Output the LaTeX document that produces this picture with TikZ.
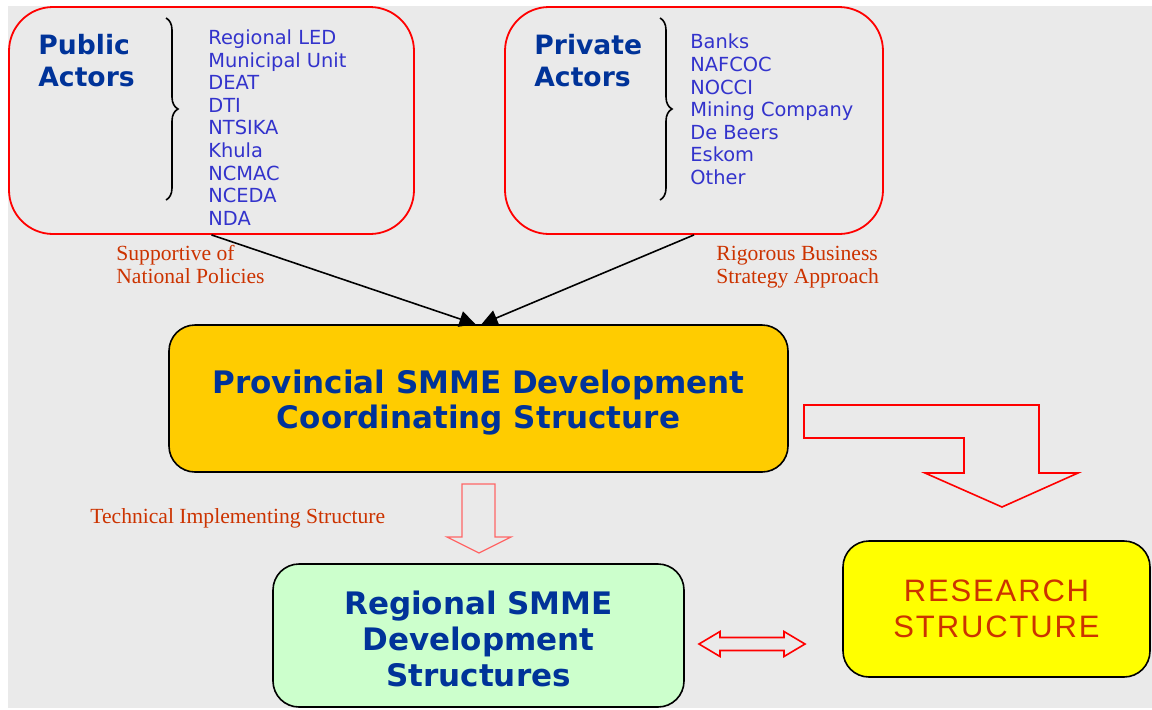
\documentclass[tikz,border=0pt]{standalone}
\usepackage{fontspec}
\usepackage{xcolor}
\usepackage{tikz}
\usetikzlibrary{arrows.meta}
\usetikzlibrary{decorations.pathreplacing}
\newfontfamily\verdana{DejaVu Sans}
\newfontfamily\timesf{Liberation Serif}
\newfontfamily\arialf[LetterSpace=6]{Liberation Sans}
\definecolor{bg}{HTML}{EAEAEA}
\definecolor{titleblue}{HTML}{003399}
\definecolor{listblue}{HTML}{3333CC}
\definecolor{remarkred}{HTML}{CC3300}
\definecolor{provfill}{HTML}{FFCC00}
\definecolor{regfill}{HTML}{CCFFCC}
\definecolor{resfill}{HTML}{FFFF00}
\definecolor{lightred}{HTML}{FF6666}
\tikzstyle{actors}=[draw=red, line width=0.9pt, rounded corners=22pt, inner sep=0pt]
\tikzstyle{structure}=[draw=black, line width=0.8pt, rounded corners=13pt, inner sep=0pt, align=center]
\tikzstyle{title}=[font=\verdana\bfseries\fontsize{13.3}{16}\selectfont, text=titleblue, align=left, inner sep=0pt]
\tikzstyle{members}=[font=\verdana\fontsize{9.7}{11.3}\selectfont, text=listblue, align=left, inner sep=0pt]
\tikzstyle{remark}=[font=\timesf\fontsize{10.8}{11.5}\selectfont, text=remarkred, align=left, inner sep=0pt]
\tikzstyle{bracket}=[decorate, decoration={brace, amplitude=6pt}, line width=0.8pt]
\tikzstyle{link}=[-{Triangle[length=8pt,width=8pt]}, line width=0.8pt, black]
\tikzstyle{blockarrow}=[draw=red, line width=0.8pt]

\begin{document}
\begin{tikzpicture}[x=0.5pt,y=-0.5pt]
\useasboundingbox (0,0) rectangle (1152,709);
\fill[bg] (8,6) rectangle (1152,708);

\node[actors, minimum width=202.5pt, minimum height=113.5pt] (pub) at (211.5,120.5) {};
\node[actors, minimum width=189pt, minimum height=113.5pt] (priv) at (694,120.5) {};
\node[title, anchor=west] (pubt) at (38,61) {Public\\Actors};
\node[title, anchor=west] (privt) at (534,61) {Private\\Actors};
\draw[bracket] (166,18) -- (166,200);
\draw[bracket] (660,18) -- (660,200);
\node[members, anchor=west] (publ) at (208,127.5) {Regional LED\\Municipal Unit\\DEAT\\DTI\\NTSIKA\\Khula\\NCMAC\\NCEDA\\NDA};
\node[members, anchor=west] (privl) at (690,109.5) {Banks\\NAFCOC\\NOCCI\\Mining Company\\De Beers\\Eskom\\Other};

\node[remark, anchor=west] (sup) at (116,264.5) {Supportive of\\National Policies};
\node[remark, anchor=west] (rig) at (716,267.5) {Rigorous Business\\Strategy Approach};
\node[remark, anchor=west] (tech) at (90,518) {Technical Implementing Structure};

\node[structure, fill=provfill, minimum width=309.5pt, minimum height=73.5pt, text=titleblue,
  font=\verdana\bfseries\fontsize{15.5}{17.5}\selectfont] (prov) at (478.5,398.5) {\rule{0pt}{15.8pt}Provincial SMME Development\\Coordinating Structure};
\node[structure, fill=regfill, minimum width=205.5pt, minimum height=71.5pt, text=titleblue,
  font=\verdana\bfseries\fontsize{15.5}{18}\selectfont] (reg) at (478.5,635.5) {\rule{0pt}{14.8pt}Regional SMME\\Development\\Structures};
\node[structure, fill=resfill, minimum width=153.5pt, minimum height=68pt, text=remarkred,
  font=\arialf\fontsize{15.5}{18}\selectfont] (res) at (996.5,609) {RESEARCH\\STRUCTURE};

\draw[link] (pub.south) -- ([xshift=-1.5pt]prov.north);
\draw[link] (priv.south) -- ([xshift=1.5pt]prov.north);

\draw[blockarrow] (804,405) -- (1039,405) -- (1039,473) -- (1078,473) -- (1002,507) -- (925,473) -- (964,473) -- (964,438) -- (804,438) -- cycle;
\draw[blockarrow, draw=lightred, line width=0.6pt] (462,484) -- (495,484) -- (495,537) -- (511,537) -- (479,553) -- (447,537) -- (462,537) -- cycle;
\draw[blockarrow] (699,644) -- (720,631.5) -- (720,637.5) -- (784,637.5) -- (784,631.5) -- (805,644) -- (784,656.5) -- (784,650.5) -- (720,650.5) -- (720,656.5) -- cycle;
\end{tikzpicture}
\end{document}
